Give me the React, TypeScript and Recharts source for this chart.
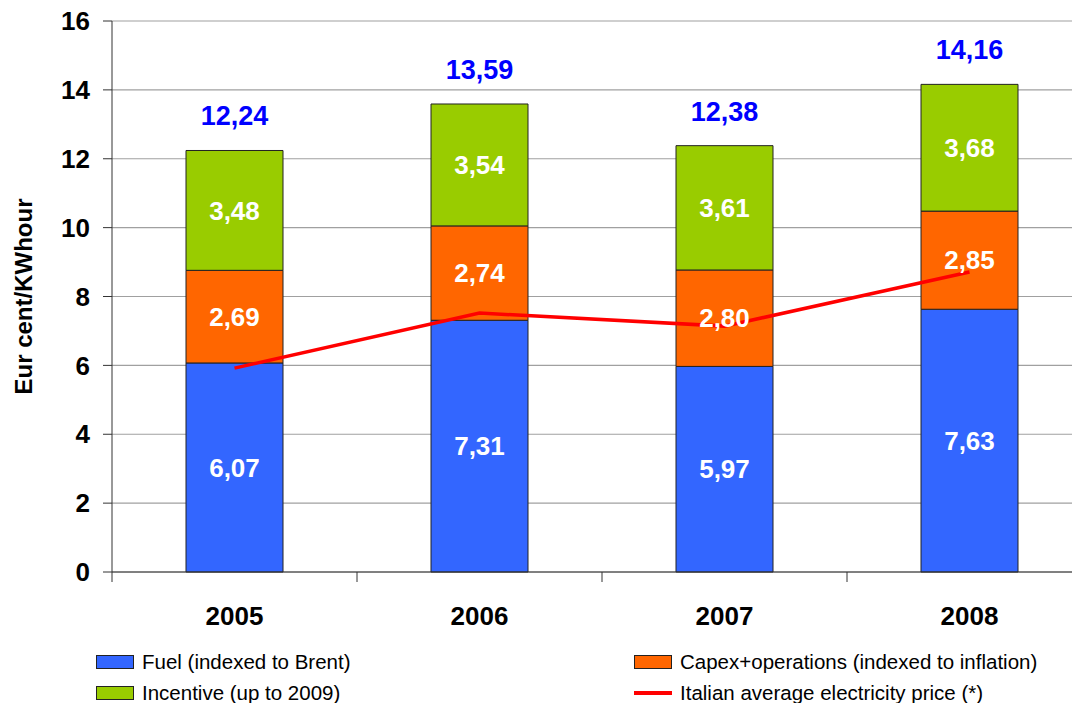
import React from 'react';
import { ComposedChart, Bar, Line, XAxis, YAxis, CartesianGrid, LabelList } from 'recharts';

const years = ['2005', '2006', '2007', '2008'];
const fuel = [6.07, 7.31, 5.97, 7.63];
const capex = [2.69, 2.74, 2.8, 2.85];
const incentive = [3.48, 3.54, 3.61, 3.68];
const totals = [12.24, 13.59, 12.38, 14.16];
const price = [5.92, 7.52, 7.14, 8.71];
const yTicks = [0, 2, 4, 6, 8, 10, 12, 14, 16];

const data = years.map((y, i) => ({
  year: y,
  fuel: fuel[i],
  capex: capex[i],
  incentive: incentive[i],
  total: totals[i],
  price: price[i],
}));

const FONT = '"Liberation Sans", Arial, sans-serif';
const fmt = (v: any) => Number(v).toFixed(2).replace('.', ',');

const BAND = 245;
const TICK_SIZE = 10;
const TICK_MARGIN = 25;

const XTick = (props: any) => {
  const { x, y, payload, index } = props;
  const axisY = y - TICK_SIZE - TICK_MARGIN;
  const bx = x - BAND / 2;
  return (
    <g>
      <line x1={bx} y1={axisY} x2={bx} y2={axisY + TICK_SIZE} stroke="#333" strokeWidth={1} />
      {index === years.length - 1 && (
        <line x1={x + BAND / 2} y1={axisY} x2={x + BAND / 2} y2={axisY + TICK_SIZE} stroke="#333" strokeWidth={1} />
      )}
      <text x={x} y={y} dy="0.71em" textAnchor="middle" fontFamily={FONT} fontWeight="bold" fontSize={26} fill="#000">
        {payload.value}
      </text>
    </g>
  );
};

const YLabel = (props: any) => {
  const vb = props.viewBox;
  const cx = vb.x + 15;
  const cy = vb.y + vb.height / 2;
  return (
    <text
      x={cx}
      y={cy}
      transform={`rotate(-90, ${cx}, ${cy})`}
      textAnchor="middle"
      dominantBaseline="central"
      fontFamily={FONT}
      fontWeight="bold"
      fontSize={24}
      fill="#000"
    >
      Eur cent/KWhour
    </text>
  );
};

const legendItems = [
  { name: 'Fuel (indexed to Brent)', color: '#3366FF', type: 'rect', left: 88, top: 639 },
  { name: 'Capex+operations (indexed to inflation)', color: '#FF6600', type: 'rect', left: 626, top: 639 },
  { name: 'Incentive (up to 2009)', color: '#99CC00', type: 'rect', left: 88, top: 670 },
  { name: 'Italian average electricity price (*)', color: '#FF0000', type: 'line', left: 626, top: 670 },
];

export default function App() {
  return (
    <div style={{ position: 'relative', width: 1100, height: 695, fontFamily: FONT }}>
      <ComposedChart
        width={1100}
        height={640}
        data={data}
        barCategoryGap={0}
        margin={{ top: 13, right: 16, bottom: 16, left: 0 }}
      >
        <CartesianGrid vertical={false} stroke="#A0A0A0" strokeWidth={1.2} />
        <XAxis
          dataKey="year"
          height={60}
          tickLine={false}
          tickSize={TICK_SIZE}
          tickMargin={TICK_MARGIN}
          axisLine={{ stroke: '#333', strokeWidth: 1 }}
          tick={<XTick />}
          interval={0}
        />
        <YAxis
          width={104}
          domain={[0, 16]}
          ticks={yTicks}
          interval={0}
          tickSize={9}
          tickMargin={13}
          axisLine={{ stroke: '#333', strokeWidth: 1 }}
          tickLine={{ stroke: '#333', strokeWidth: 1 }}
          tick={{ fontFamily: FONT, fontWeight: 'bold', fontSize: 26, fill: '#000' }}
          label={<YLabel />}
        />
        <Bar dataKey="fuel" stackId="a" fill="#3366FF" stroke="#222" strokeWidth={1} barSize={97} isAnimationActive={false}>
          <LabelList dataKey="fuel" position="center" formatter={fmt} fill="#FFFFFF" fontFamily={FONT} fontWeight="bold" fontSize={26} />
        </Bar>
        <Bar dataKey="capex" stackId="a" fill="#FF6600" stroke="#222" strokeWidth={1} barSize={97} isAnimationActive={false}>
          <LabelList dataKey="capex" position="center" formatter={fmt} fill="#FFFFFF" fontFamily={FONT} fontWeight="bold" fontSize={26} />
        </Bar>
        <Bar dataKey="incentive" stackId="a" fill="#99CC00" stroke="#222" strokeWidth={1} barSize={97} isAnimationActive={false}>
          <LabelList dataKey="incentive" position="center" formatter={fmt} fill="#FFFFFF" fontFamily={FONT} fontWeight="bold" fontSize={26} />
          <LabelList dataKey="total" position="top" offset={25} formatter={fmt} fill="#0000FF" fontFamily={FONT} fontWeight="bold" fontSize={27} />
        </Bar>
        <Line dataKey="price" stroke="#FF0000" strokeWidth={3.5} dot={false} activeDot={false} isAnimationActive={false} />
      </ComposedChart>
      {legendItems.map((it) => (
        <div
          key={it.name}
          style={{ position: 'absolute', left: it.left, top: it.top, display: 'flex', alignItems: 'center', height: 30 }}
        >
          {it.type === 'rect' ? (
            <div style={{ width: 36, height: 12, background: it.color, border: '1px solid #222' }} />
          ) : (
            <div style={{ width: 38, height: 4, background: it.color }} />
          )}
          <span style={{ marginLeft: 8, fontSize: 20.5, color: '#000', fontFamily: FONT, whiteSpace: 'nowrap' }}>{it.name}</span>
        </div>
      ))}
    </div>
  );
}
